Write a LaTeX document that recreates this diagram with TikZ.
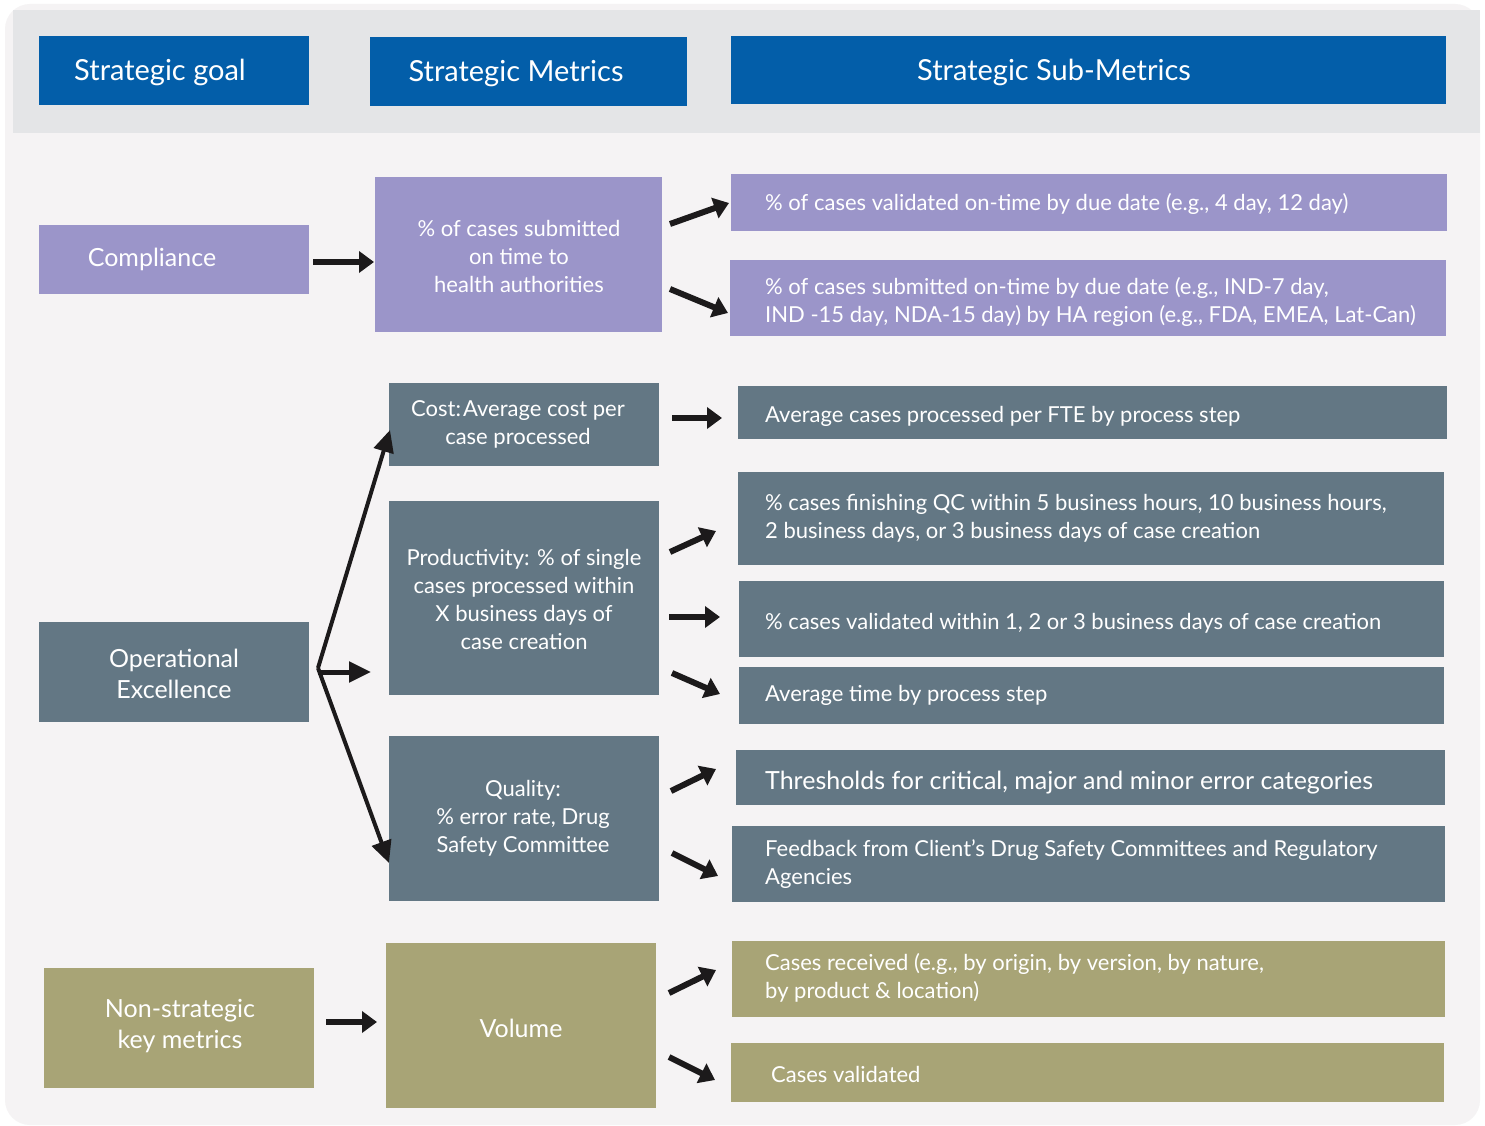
\documentclass[tikz,border=0pt]{standalone}
\usepackage{fontspec}
\setmainfont{Lato}
\usetikzlibrary{arrows.meta,calc}
\definecolor{bgc}{HTML}{F5F3F4}
\definecolor{hdr}{HTML}{E4E5E7}
\definecolor{hblue}{HTML}{035EA9}
\definecolor{cpurp}{HTML}{9B95C9}
\definecolor{cslate}{HTML}{637784}
\definecolor{colive}{HTML}{A8A476}
\definecolor{arrc}{HTML}{1C1A1B}
\begin{document}
\begin{tikzpicture}[x=1pt,y=-1pt,
  box/.style={inner sep=0pt, outer sep=0pt, anchor=north west, draw=none},
  txt/.style={text=white, inner sep=0pt, font=\fontsize{22}{28}\selectfont},
  big/.style={txt, font=\fontsize{25}{31}\selectfont, align=center},
  hd/.style={txt, font=\fontsize{29}{35}\selectfont},
  sub/.style={txt, anchor=west, align=left},
  met/.style={txt, align=center},
  arr/.style={draw=arrc, line width=6pt, -{Triangle[length=15pt,width=21pt]}},
  brarr/.style={draw=arrc, line width=4pt, -{Triangle[length=22pt,width=20pt]}},
]
\useasboundingbox (0,0) rectangle (1485,1126);
\fill[white] (0,0) rectangle (1485,1126);
\fill[bgc, rounded corners=25pt] (5,4) rectangle (1480,1125);
\fill[hdr] (13,10) rectangle (1480,133);

% header
\node[box, fill=hblue, minimum width=270, minimum height=69] (h1) at (39,36) {};
\node[box, fill=hblue, minimum width=317, minimum height=69] (h2) at (370,37) {};
\node[box, fill=hblue, minimum width=715, minimum height=68] (h3) at (731,36) {};
\node[hd] (h1t) at (160,72) {Strategic goal};
\node[hd] (h2t) at (516,74) {Strategic Metrics};
\node[hd] (h3t) at (1054,72) {Strategic Sub-Metrics};

% compliance
\node[box, fill=cpurp, minimum width=270, minimum height=69] (comp) at (39,225) {};
\node[box, fill=cpurp, minimum width=287, minimum height=155] (met1) at (375,177) {};
\node[box, fill=cpurp, minimum width=716, minimum height=57] (s1) at (731,174) {};
\node[box, fill=cpurp, minimum width=716, minimum height=76] (s2) at (730,260) {};
\node[big] (compt) at (152,259) {Compliance};
\node[met] (met1t) at (519,256.5) {\% of cases submitted\\on time to\\health authorities};
\node[sub] (s1t) at (765,204) {\% of cases validated on-time by due date (e.g., 4 day, 12 day)};
\node[sub] (s2t) at (765,302) {\% of cases submitted on-time by due date (e.g., IND-7 day,\\IND -15 day, NDA-15 day) by HA region (e.g., FDA, EMEA, Lat-Can)};

% operational excellence
\node[box, fill=cslate, minimum width=270, minimum height=100] (ope) at (39,622) {};
\node[box, fill=cslate, minimum width=270, minimum height=83] (cost) at (389,383) {};
\node[box, fill=cslate, minimum width=270, minimum height=194] (prod) at (389,501) {};
\node[box, fill=cslate, minimum width=270, minimum height=165] (qual) at (389,736) {};
\node[box, fill=cslate, minimum width=709, minimum height=53] (s3) at (738,386) {};
\node[box, fill=cslate, minimum width=706, minimum height=93] (s4) at (738,472) {};
\node[box, fill=cslate, minimum width=705, minimum height=76] (s5) at (739,581) {};
\node[box, fill=cslate, minimum width=705, minimum height=57] (s6) at (739,667) {};
\node[box, fill=cslate, minimum width=709, minimum height=55] (s7) at (736,750) {};
\node[box, fill=cslate, minimum width=713, minimum height=76] (s8) at (732,826) {};
\node[big] (opet) at (174,674) {Operational\\Excellence};
\node[met] (costt) at (518,424) {Cost:\hspace{2pt}Average cost per\\case processed};
\node[met, font=\fontsize{22}{27.7}\selectfont] (prodt) at (524,599.5) {Productivity: \% of single\\cases processed within\\X business days of\\case creation};
\node[met] (qualt) at (523,818.5) {Quality:\\\% error rate, Drug\\Safety Committee};
\node[sub] (s3t) at (765,416) {Average cases processed per FTE by process step};
\node[sub] (s4t) at (765,518) {\% cases finishing QC within 5 business hours, 10 business hours,\\2 business days, or 3 business days of case creation};
\node[sub] (s5t) at (765,623) {\% cases validated within 1, 2 or 3 business days of case creation};
\node[sub] (s6t) at (765,695) {Average time by process step};
\node[sub, font=\fontsize{25}{28}\selectfont] (s7t) at (765,783) {Thresholds for critical, major and minor error categories};
\node[sub] (s8t) at (765,864) {Feedback from Client's Drug Safety Committees and Regulatory\\Agencies};

% non-strategic
\node[box, fill=colive, minimum width=270, minimum height=120] (nsk) at (44,968) {};
\node[box, fill=colive, minimum width=270, minimum height=165] (vol) at (386,943) {};
\node[box, fill=colive, minimum width=713, minimum height=76] (s9) at (732,941) {};
\node[box, fill=colive, minimum width=713, minimum height=59] (s10) at (731,1043) {};
\node[big] (nskt) at (180,1026.5) {Non-strategic\\key metrics};
\node[big] (volt) at (521,1028) {Volume};
\node[sub] (s9t) at (765,978) {Cases received (e.g., by origin, by version, by nature,\\by product \& location)};
\node[sub] (s10t) at (771,1074) {Cases validated};

% arrows
\draw[arr] ($(comp.east)+(4,2.5)$) -- ($(met1.west)+(-1,7.5)$);
\draw[arr] ($(met1.east)+(8,-30.5)$) -- ($(s1.west)+(-2,0.5)$);
\draw[arr] ($(met1.east)+(8,34.5)$) -- ($(s2.west)+(-2,15)$);
\draw[arr] ($(cost.east)+(13,-6.5)$) -- ($(s3.west)+(-16,5.5)$);
\draw[arr] ($(prod.east)+(11,-46)$) -- ($(s4.west)+(-22,12.5)$);
\draw[arr] ($(prod.east)+(10,19)$) -- ($(s5.west)+(-19,-2)$);
\draw[arr] ($(prod.east)+(13,75)$) -- ($(s6.west)+(-19,-1.5)$);
\draw[arr] ($(qual.east)+(12,-27.5)$) -- ($(s7.west)+(-20,-8.5)$);
\draw[arr] ($(qual.east)+(13,34.5)$) -- ($(s8.west)+(-14,12)$);
\draw[arr] ($(nsk.east)+(12,-6)$) -- ($(vol.west)+(-9,-3.5)$);
\draw[arr] ($(vol.east)+(13,-32.5)$) -- ($(s9.west)+(-16,-9)$);
\draw[arr] ($(vol.east)+(13,31.5)$) -- ($(s10.west)+(-16,7.5)$);

% branch
\draw[brarr] ($(ope.east)+(9,-4)$) -- ($(cost.south west)+(1,-36)$);
\draw[brarr, line width=5pt] ($(ope.east)+(9,0)$) -- ($(prod.west)+(-18,74)$);
\draw[brarr] ($(ope.east)+(9,-4)$) -- ($(qual.west)+(0,44.5)$);
\end{tikzpicture}
\end{document}
